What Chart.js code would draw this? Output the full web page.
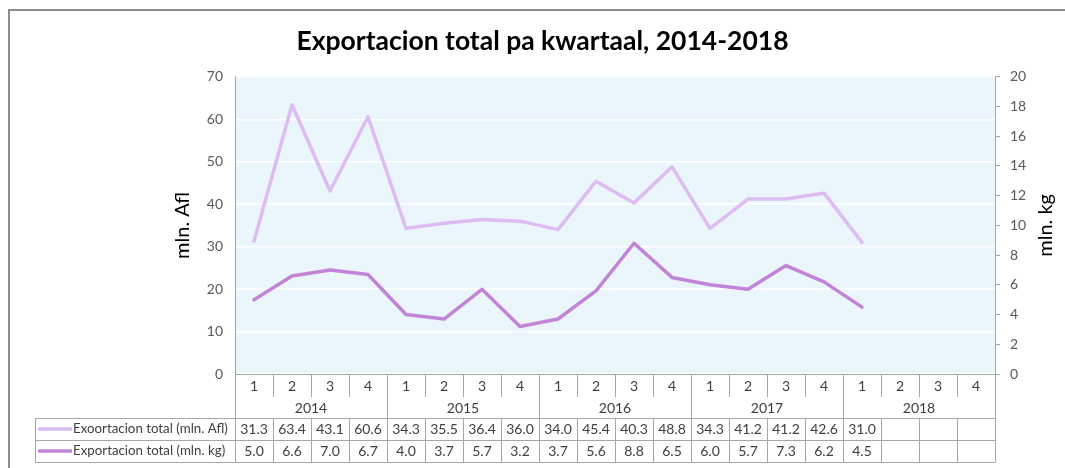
<!DOCTYPE html>
<html>
<head>
<meta charset="utf-8">
<script src="https://cdn.jsdelivr.net/npm/chart.js@4.4.0/dist/chart.umd.min.js"></script>
<style>
  html, body { margin: 0; padding: 0; background: #ffffff; }
  #wrap { width: 1065px; height: 468px; }
</style>
</head>
<body>
<div id="wrap"><canvas id="c" width="1065" height="468"></canvas></div>
<script>
const quarters = ['1','2','3','4','1','2','3','4','1','2','3','4','1','2','3','4','1','2','3','4'];
const years = ['2014','2015','2016','2017','2018'];
const seriesAflName = 'Exoortacion total (mln. Afl)';
const seriesKgName = 'Exportacion total (mln. kg)';
const exportAfl = [31.3, 63.4, 43.1, 60.6, 34.3, 35.5, 36.4, 36.0, 34.0, 45.4, 40.3, 48.8, 34.3, 41.2, 41.2, 42.6, 31.0, null, null, null];
const exportKg = [5.0, 6.6, 7.0, 6.7, 4.0, 3.7, 5.7, 3.2, 3.7, 5.6, 8.8, 6.5, 6.0, 5.7, 7.3, 6.2, 4.5, null, null, null];
const leftTicks = [0, 10, 20, 30, 40, 50, 60, 70];
const rightTicks = [0, 2, 4, 6, 8, 10, 12, 14, 16, 18, 20];

const FONT = 'Lato, "Open Sans", sans-serif';
const lightColor = '#ddbcf3';
const darkColor = '#c284d6';
const gridGray = '#a6a6a6';
const textColor = '#404040';

const tablePlugin = {
  id: 'tablePlugin',
  beforeDraw(chart) {
    const {ctx, chartArea} = chart;
    ctx.save();
    ctx.fillStyle = '#ffffff';
    ctx.fillRect(0, 0, chart.width, chart.height);
    ctx.fillStyle = '#ebf5fc';
    ctx.fillRect(chartArea.left, chartArea.top, chartArea.right - chartArea.left, chartArea.bottom - chartArea.top);
    ctx.restore();
  },
  afterDraw(chart) {
    const {ctx, chartArea} = chart;
    const xs = chart.scales.x;
    const n = quarters.length;
    const w = (chartArea.right - chartArea.left) / n;
    const L = chartArea.left;
    const B = chartArea.bottom;
    const rowQ = B + 24, rowY = B + 44, row1 = B + 66, row2 = B + 88;
    const tableLeft = 35;
    ctx.save();
    // outer frame
    ctx.strokeStyle = '#8c8c8c';
    ctx.lineWidth = 2;
    ctx.strokeRect(9, 10, 1200, 600);

    // axis titles
    ctx.fillStyle = '#000000';
    ctx.font = '20px ' + FONT;
    ctx.textAlign = 'center';
    ctx.textBaseline = 'middle';
    ctx.save();
    ctx.translate(183, (chartArea.top + chartArea.bottom) / 2);
    ctx.rotate(-Math.PI / 2);
    ctx.fillText('mln. Afl', 0, 0);
    ctx.restore();
    ctx.save();
    ctx.translate(1046, (chartArea.top + chartArea.bottom) / 2);
    ctx.rotate(-Math.PI / 2);
    ctx.fillText('mln. kg', 0, 0);
    ctx.restore();

    // table grid lines
    ctx.strokeStyle = gridGray;
    ctx.lineWidth = 1;
    const vline = (x, y1, y2) => { ctx.beginPath(); ctx.moveTo(Math.round(x) + 0.5, y1); ctx.lineTo(Math.round(x) + 0.5, y2); ctx.stroke(); };
    const hline = (x1, x2, y) => { ctx.beginPath(); ctx.moveTo(x1, Math.round(y) + 0.5); ctx.lineTo(x2, Math.round(y) + 0.5); ctx.stroke(); };
    for (let i = 0; i <= n; i++) {
      const bx = L + i * w;
      if (i % 4 === 0) vline(bx, B, row2); else { vline(bx, B, rowQ - 1); vline(bx, rowY, row2); }
    }
    vline(tableLeft, rowY, row2);
    hline(tableLeft, chartArea.right + 0.5, rowY);
    hline(tableLeft, chartArea.right + 0.5, row1);
    hline(tableLeft, chartArea.right + 0.5, row2);

    // quarter labels
    ctx.fillStyle = textColor;
    ctx.font = '14px ' + FONT;
    ctx.textAlign = 'center';
    ctx.textBaseline = 'middle';
    for (let i = 0; i < n; i++) {
      ctx.fillText(quarters[i], xs.getPixelForValue(i), B + 12);
    }
    for (let y = 0; y < years.length; y++) {
      const cx = (xs.getPixelForValue(y * 4) + xs.getPixelForValue(y * 4 + 3)) / 2;
      ctx.fillText(years[y], cx, B + 34);
    }
    // values
    const fmt = v => (v === null || v === undefined) ? '' : v.toFixed(1);
    for (let i = 0; i < n; i++) {
      const cx = xs.getPixelForValue(i);
      ctx.fillText(fmt(exportAfl[i]), cx, rowY + 11);
      ctx.fillText(fmt(exportKg[i]), cx, row1 + 11);
    }
    // legend keys
    ctx.lineWidth = 3.5;
    ctx.lineCap = 'butt';
    ctx.strokeStyle = lightColor;
    ctx.beginPath(); ctx.moveTo(38, rowY + 11); ctx.lineTo(72, rowY + 11); ctx.stroke();
    ctx.strokeStyle = darkColor;
    ctx.beginPath(); ctx.moveTo(38, row1 + 11); ctx.lineTo(72, row1 + 11); ctx.stroke();
    ctx.fillStyle = textColor;
    ctx.font = '13.3px ' + FONT;
    ctx.textAlign = 'left';
    ctx.fillText(seriesAflName, 73, rowY + 11);
    ctx.fillText(seriesKgName, 73, row1 + 11);
    ctx.restore();
  }
};

new Chart(document.getElementById('c'), {
  type: 'line',
  data: {
    labels: quarters,
    datasets: [
      { label: seriesAflName, data: exportAfl, yAxisID: 'y', borderColor: lightColor, backgroundColor: lightColor, borderWidth: 3.5, pointRadius: 0, tension: 0, borderCapStyle: 'round', borderJoinStyle: 'round' },
      { label: seriesKgName, data: exportKg, yAxisID: 'y1', borderColor: darkColor, backgroundColor: darkColor, borderWidth: 3.5, pointRadius: 0, tension: 0, borderCapStyle: 'round', borderJoinStyle: 'round' }
    ]
  },
  options: {
    responsive: false,
    animation: false,
    devicePixelRatio: 1,
    layout: { padding: { left: 20, right: 0, top: 0, bottom: 0 } },
    plugins: {
      legend: { display: false },
      tooltip: { enabled: false },
      title: {
        display: true,
        text: 'Exportacion total pa kwartaal, 2014-2018',
        color: '#000000',
        font: { family: FONT, size: 26.5, weight: 'bold', lineHeight: 1.2 },
        padding: { top: 26, bottom: 19 }
      }
    },
    scales: {
      x: {
        type: 'category',
        offset: true,
        ticks: { display: false },
        grid: { display: false },
        border: { display: true, color: gridGray, width: 1 },
        afterFit(s) { s.height = 94; }
      },
      y: {
        position: 'left',
        min: 0, max: 70,
        afterBuildTicks(s) { s.ticks = leftTicks.map(v => ({ value: v })); },
        ticks: { color: '#595959', font: { family: FONT, size: 14 }, padding: 12 },
        grid: { color: '#ffffff', lineWidth: 1.5, drawTicks: false },
        border: { display: true, color: gridGray, width: 1 },
        afterFit(s) { s.width = 215; }
      },
      y1: {
        position: 'right',
        min: 0, max: 20,
        afterBuildTicks(s) { s.ticks = rightTicks.map(v => ({ value: v })); },
        ticks: { color: '#595959', font: { family: FONT, size: 14 }, padding: 10 },
        grid: { drawOnChartArea: false, drawTicks: true, tickLength: 5, color: gridGray },
        border: { display: true, color: gridGray, width: 1 },
        afterFit(s) { s.width = 70; }
      }
    }
  },
  plugins: [tablePlugin]
});
</script>
</body>
</html>
